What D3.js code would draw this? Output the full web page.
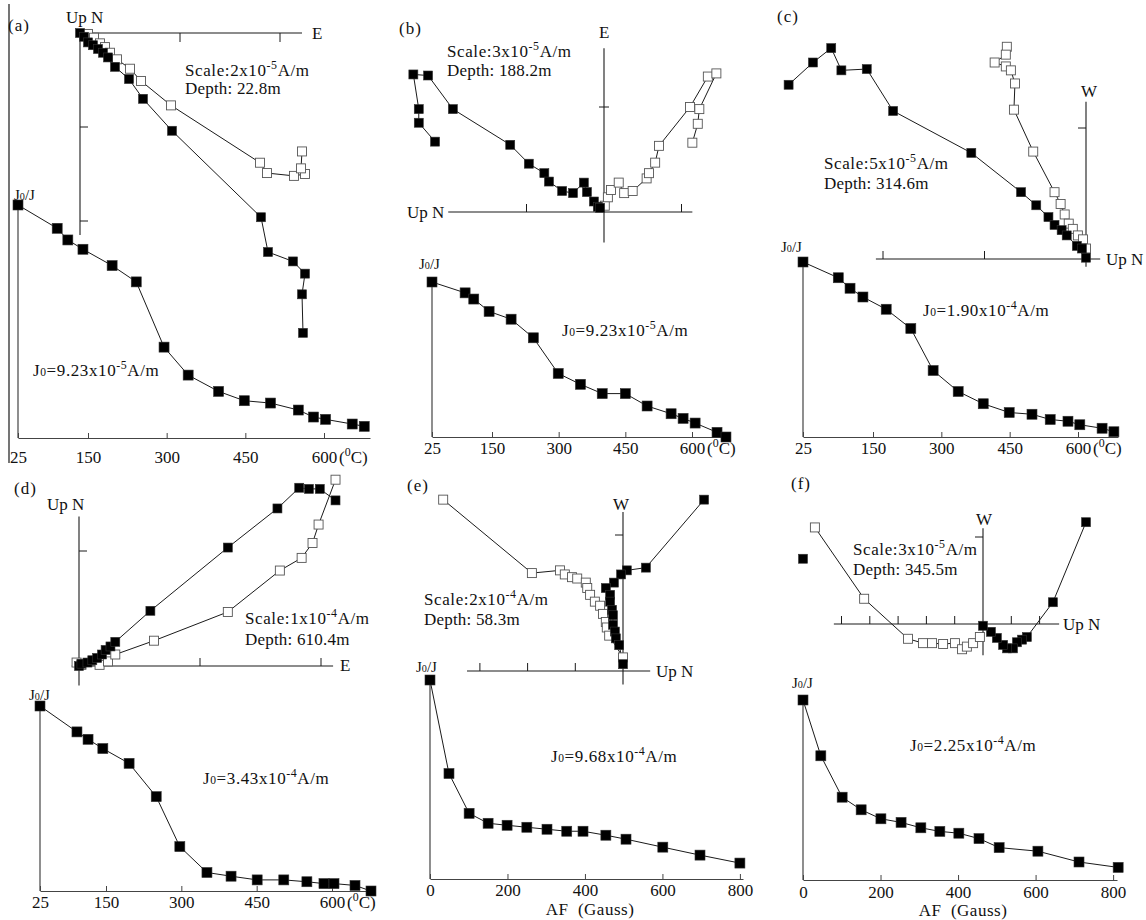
<!DOCTYPE html>
<html><head><meta charset="utf-8">
<script src="https://cdn.jsdelivr.net/npm/d3@7"></script>
<style>
body{margin:0;background:#fff;}
svg text{font-family:"Liberation Serif","Times New Roman",serif;fill:#111;}
</style></head><body>
<svg id="fig" width="1146" height="920"></svg>
<script>
// ---------- data ----------
// Orthogonal (Zijderveld) projections, in units of the scale bar.
// "filled" = horizontal-plane projection, "open" = vertical-plane projection.
const zA_filled = [[0,0],[0.04,-0.04],[0.08,-0.10],[0.13,-0.13],[0.18,-0.17],[0.23,-0.21],[0.28,-0.26],[0.35,-0.36],[0.49,-0.49],[0.63,-0.70],[0.92,-1.04],[1.81,-1.96],[1.88,-2.33],[2.13,-2.43],[2.25,-2.56],[2.22,-2.78],[2.23,-3.19]];
const zA_open = [[0.08,-0.01],[0.14,-0.05],[0.20,-0.11],[0.25,-0.15],[0.30,-0.21],[0.37,-0.28],[0.50,-0.38],[0.61,-0.51],[0.91,-0.77],[1.80,-1.38],[1.87,-1.49],[2.14,-1.52],[2.25,-1.50],[2.21,-1.44],[2.22,-1.26]];
const zB_filled = [[-2.18,0.67],[-2.39,0.85],[-2.39,0.98],[-2.46,1.31],[-2.27,1.30],[-1.95,0.98],[-1.21,0.64],[-0.97,0.46],[-0.77,0.37],[-0.71,0.29],[-0.54,0.20],[-0.40,0.18],[-0.26,0.28],[-0.22,0.19],[-0.13,0.10],[-0.08,0.05],[-0.05,0.04]];
const zB_open = [[0.01,0.06],[0.05,0.14],[0.09,0.21],[0.19,0.28],[0.26,0.18],[0.37,0.20],[0.55,0.32],[0.58,0.37],[0.66,0.47],[0.71,0.63],[1.11,1.00],[1.34,1.29],[1.45,1.32],[1.23,0.98],[1.21,0.84],[1.14,0.66]];
const zC_filled = [[-2.93,1.33],[-2.69,1.50],[-2.51,1.61],[-2.41,1.44],[-2.16,1.45],[-1.90,1.13],[-1.13,0.81],[-0.64,0.51],[-0.49,0.41],[-0.37,0.32],[-0.31,0.26],[-0.24,0.22],[-0.19,0.18],[-0.09,0.10],[-0.04,0.08],[0.00,0.01]];
const zC_open = [[-0.78,1.62],[-0.79,1.56],[-0.90,1.50],[-0.79,1.47],[-0.74,1.44],[-0.70,1.34],[-0.71,1.14],[-0.52,0.82],[-0.31,0.51],[-0.25,0.42],[-0.21,0.34],[-0.17,0.27],[-0.13,0.23],[-0.08,0.18],[-0.03,0.15],[0.00,0.08]];
const zD_filled = [[0,0],[0.02,0.02],[0.07,0.03],[0.11,0.05],[0.15,0.07],[0.19,0.10],[0.22,0.14],[0.26,0.17],[0.30,0.21],[0.59,0.48],[1.23,1.03],[1.64,1.37],[1.82,1.55],[1.90,1.54],[1.99,1.54],[2.12,1.44]];
const zD_open = [[-0.02,0.03],[0.02,0.01],[0.17,0.01],[0.24,0.04],[0.30,0.10],[0.62,0.22],[1.23,0.47],[1.66,0.83],[1.84,0.94],[1.93,1.07],[1.98,1.23],[2.12,1.62]];
const zE_filled = [[1.70,1.26],[0.48,0.76],[0.08,0.74],[-0.04,0.71],[-0.19,0.65],[-0.36,0.61],[-0.27,0.56],[-0.27,0.51],[-0.23,0.45],[-0.21,0.41],[-0.21,0.34],[-0.17,0.29],[-0.15,0.24],[-0.08,0.19],[0.00,0.05]];
const zE_open = [[-3.77,1.26],[-1.91,0.72],[-1.32,0.74],[-1.22,0.71],[-1.07,0.69],[-0.96,0.68],[-0.78,0.65],[-0.75,0.61],[-0.69,0.56],[-0.59,0.51],[-0.48,0.48],[-0.42,0.42],[-0.36,0.36],[-0.34,0.32],[-0.29,0.26],[0.00,0.10]];
const zF_filled = [[3.64,1.17],[2.47,0.25],[1.55,-0.15],[1.38,-0.18],[1.20,-0.21],[1.06,-0.28],[0.85,-0.28],[0.71,-0.24],[0.49,-0.16],[0.28,-0.09],[0.00,-0.02]];
const zF_filledLone = [[-6.36,0.75]];
const zF_open = [[-5.94,1.11],[-4.20,0.29],[-2.65,-0.17],[-2.12,-0.22],[-1.80,-0.22],[-1.41,-0.23],[-0.99,-0.22],[-0.74,-0.29],[-0.57,-0.26],[-0.35,-0.22],[-0.11,-0.15]];

// Demagnetization curves: step (°C or Gauss) and normalized intensity J/J0
const tempA = [25,95,114,141,196,242,295,341,399,448,498,551,580,603,654,677];
const decayA = [1.00,0.90,0.85,0.81,0.74,0.67,0.39,0.27,0.20,0.16,0.15,0.12,0.09,0.08,0.06,0.05];
const tempB = [25,94,112,144,193,243,299,349,398,450,499,553,580,607,656,676];
const decayB = [1.00,0.93,0.89,0.81,0.76,0.64,0.41,0.34,0.28,0.28,0.20,0.15,0.12,0.09,0.03,0.00];
const tempC = [25,88,109,132,179,233,282,337,392,449,499,539,578,604,653,679];
const decayC = [1.00,0.91,0.85,0.80,0.73,0.62,0.38,0.26,0.19,0.14,0.13,0.10,0.09,0.07,0.05,0.03];
const tempD = [25,95,116,144,196,250,297,351,399,451,504,550,584,604,646,678];
const decayD = [1.00,0.86,0.82,0.77,0.69,0.51,0.24,0.10,0.08,0.06,0.06,0.05,0.04,0.04,0.03,0.00];
const afE = [0,49,101,150,199,250,302,353,395,454,506,601,697,800];
const decayE = [1.00,0.53,0.33,0.28,0.27,0.26,0.25,0.24,0.24,0.22,0.20,0.16,0.12,0.08];
const afF = [0,46,101,150,201,253,304,353,402,454,506,606,712,813];
const decayF = [1.00,0.69,0.46,0.39,0.34,0.32,0.29,0.27,0.26,0.23,0.18,0.16,0.10,0.07];

const thermalTicks = [25,150,300,450,600];
const afTicks = [0,200,400,600,800];

const panelLetters = ["(a)","(b)","(c)","(d)","(e)","(f)"];
const scaleTexts = ["Scale:2x10^{-5}A/m","Scale:3x10^{-5}A/m","Scale:5x10^{-5}A/m","Scale:1x10^{-4}A/m","Scale:2x10^{-4}A/m","Scale:3x10^{-5}A/m"];
const depthTexts = ["Depth: 22.8m","Depth: 188.2m","Depth: 314.6m","Depth: 610.4m","Depth: 58.3m","Depth: 345.5m"];
const j0Texts = ["J_{0}=9.23x10^{-5}A/m","J_{0}=9.23x10^{-5}A/m","J_{0}=1.90x10^{-4}A/m","J_{0}=3.43x10^{-4}A/m","J_{0}=9.68x10^{-4}A/m","J_{0}=2.25x10^{-4}A/m"];

// ---------- drawing ----------
const svg = d3.select('#fig');
const INK = '#1a1a1a';
const FS = 17;

// text with ^{superscript} and _{small baseline} pieces
function rich(g, x, y, str, opt = {}) {
  const size = opt.size || FS;
  const t = g.append('text').attr('x', x).attr('y', y)
    .attr('font-size', size).attr('text-anchor', opt.anchor || 'start')
    .attr('letter-spacing', opt.ls == null ? 0.5 : opt.ls);
  const parts = str.split(/(\^\{[^}]*\}|_\{[^}]*\})/).filter(s => s.length);
  let cur = 0;
  parts.forEach(p => {
    let target = 0, txt = p, fs = null;
    if (p.startsWith('^{')) { target = -0.4 * size; txt = p.slice(2, -1); fs = size * 0.7; }
    else if (p.startsWith('_{')) { target = 0; txt = p.slice(2, -1); fs = size * 0.68; }
    const ts = t.append('tspan').text(txt).attr('dy', target - cur);
    if (fs) ts.attr('font-size', fs);
    cur = target;
  });
  return t;
}

function drawZij(cfg, openPts, filledPts, lonePts) {
  const g = svg.append('g');
  const x = d3.scaleLinear().domain([0, 1]).range([cfg.ox, cfg.ox + cfg.sx]);
  const y = d3.scaleLinear().domain([0, 1]).range([cfg.oy, cfg.oy - cfg.sy]);
  g.append('line').attr('x1', x(cfg.xr[0])).attr('x2', x(cfg.xr[1]))
    .attr('y1', y(0)).attr('y2', y(0)).attr('stroke', INK).attr('stroke-width', 1.1);
  g.append('line').attr('x1', x(0)).attr('x2', x(0))
    .attr('y1', y(cfg.yr[0])).attr('y2', y(cfg.yr[1])).attr('stroke', INK).attr('stroke-width', 1.1);
  cfg.xt.forEach(v => g.append('line').attr('x1', x(v)).attr('x2', x(v))
    .attr('y1', y(0) + cfg.xtOff[0]).attr('y2', y(0) + cfg.xtOff[1]).attr('stroke', INK));
  cfg.yt.forEach(v => g.append('line').attr('y1', y(v)).attr('y2', y(v))
    .attr('x1', x(0) + cfg.ytOff[0]).attr('x2', x(0) + cfg.ytOff[1]).attr('stroke', INK));

  const line = d3.line().x(d => x(d[0])).y(d => y(d[1]));
  const s = 9;
  g.append('path').datum(openPts).attr('d', line).attr('fill', 'none').attr('stroke', INK).attr('stroke-width', 1);
  g.append('path').datum(filledPts).attr('d', line).attr('fill', 'none').attr('stroke', INK).attr('stroke-width', 1);
  g.selectAll(null).data(openPts).join('rect')
    .attr('x', d => x(d[0]) - s / 2).attr('y', d => y(d[1]) - s / 2)
    .attr('width', s).attr('height', s).attr('fill', '#fff').attr('stroke', '#555').attr('stroke-width', 0.9);
  g.selectAll(null).data(filledPts.concat(lonePts || [])).join('rect')
    .attr('x', d => x(d[0]) - s / 2).attr('y', d => y(d[1]) - s / 2)
    .attr('width', s).attr('height', s).attr('fill', '#000').attr('stroke', '#333').attr('stroke-width', 0.6);

  cfg.labels.forEach(l => g.append('text').attr('x', l.x).attr('y', l.y)
    .attr('font-size', FS).attr('text-anchor', l.anchor || 'start').text(l.t));
}

function drawDecay(cfg, xs, ys, j0Text) {
  const g = svg.append('g');
  const x = d3.scaleLinear().domain(cfg.dom).range(cfg.rng);
  const y = d3.scaleLinear().domain([0, 1]).range([cfg.y0, cfg.y1]);
  const axis = d3.axisBottom(x).tickValues(cfg.ticks).tickSizeInner(-5).tickSizeOuter(0)
    .tickPadding(cfg.pad).tickFormat(d3.format('d'));
  const ag = g.append('g').attr('transform', `translate(0,${cfg.y0})`).call(axis)
    .attr('font-size', FS).attr('font-family', null);
  ag.select('.domain').attr('stroke', '#444').attr('stroke-width', 1.2);
  ag.selectAll('.tick line').attr('stroke', '#444');
  ag.selectAll('.tick text').attr('fill', '#111');
  g.append('line').attr('x1', x(cfg.dom[0])).attr('x2', x(cfg.dom[0]))
    .attr('y1', y(0)).attr('y2', y(1)).attr('stroke', '#444').attr('stroke-width', 1.2);

  const pts = xs.map((v, i) => [v, ys[i]]);
  g.append('path').datum(pts).attr('d', d3.line().x(d => x(d[0])).y(d => y(d[1])))
    .attr('fill', 'none').attr('stroke', INK).attr('stroke-width', 1);
  const s = 10;
  g.selectAll(null).data(pts).join('rect')
    .attr('x', d => x(d[0]) - s / 2).attr('y', d => y(d[1]) - s / 2)
    .attr('width', s).attr('height', s).attr('fill', '#000').attr('stroke', '#333').attr('stroke-width', 0.6);

  rich(g, cfg.jlab[0], cfg.jlab[1], 'J_{0}/J', { size: 15, ls: 0 });
  rich(g, cfg.j0[0], cfg.j0[1], j0Text, { size: FS, ls: 0.6 });
  if (cfg.unit === 'T') {
    rich(g, x(600) + 15, cfg.y0 + cfg.unitDy, '(^{0}C)', { size: FS, ls: 0 });
  } else {
    g.append('text').attr('x', cfg.unitX).attr('y', cfg.y0 + cfg.unitDy).attr('font-size', FS)
      .attr('text-anchor', 'middle').attr('letter-spacing', 0.5).text('AF\u00a0 (Gauss)');
  }
}

// ---------- layout ----------
const zijLayout = [
  { ox: 80, oy: 33, sx: 100, sy: 94, xr: [0, 2.22], yr: [0, -2.15], xt: [1, 2], yt: [-1, -2], xtOff: [0, 9], ytOff: [0, 8],
    labels: [{ t: 'Up N', x: 66, y: 23 }, { t: 'E', x: 312, y: 39 }] },
  { ox: 604, oy: 212, sx: 77.5, sy: 105, xr: [-2.01, 1.14], yr: [1.56, -0.29], xt: [-1, 1], yt: [1], xtOff: [-8, 0], ytOff: [-5, 5],
    labels: [{ t: 'Up N', x: 407, y: 218 }, { t: 'E', x: 599, y: 38 }] },
  { ox: 1086, oy: 259, sx: 101.5, sy: 131, xr: [-2.07, 0.14], yr: [1.20, -0.06], xt: [-1, -2], yt: [1], xtOff: [-8, 0], ytOff: [-8, 0],
    labels: [{ t: 'W', x: 1081, y: 97 }, { t: 'Up N', x: 1106, y: 265 }] },
  { ox: 79, oy: 666, sx: 121, sy: 115, xr: [-0.06, 2.10], yr: [1.30, -0.17], xt: [1, 2], yt: [1], xtOff: [-8, 0], ytOff: [0, 8],
    labels: [{ t: 'Up N', x: 47, y: 510 }, { t: 'E', x: 340, y: 671 }] },
  { ox: 623, oy: 671, sx: 47.7, sy: 136, xr: [-3.27, 0.57], yr: [1.17, -0.10], xt: [-1, -2, -3], yt: [1], xtOff: [-8, 0], ytOff: [-8, 0],
    labels: [{ t: 'W', x: 613, y: 510 }, { t: 'Up N', x: 656, y: 677 }] },
  { ox: 983, oy: 624, sx: 28.3, sy: 87, xr: [-5.27, 2.69], yr: [1.10, -0.36], xt: [-5, -4, -3, -2, -1, 1, 2], yt: [1], xtOff: [-8, 0], ytOff: [-8, 0],
    labels: [{ t: 'W', x: 976, y: 525 }, { t: 'Up N', x: 1063, y: 630 }] }
];

const decayLayout = [
  { unit: 'T', dom: [25, 150, 600, 688], rng: [18, 88, 324, 370], y0: 438, y1: 205, ticks: thermalTicks, pad: 13, unitDy: 25, jlab: [14, 200], j0: [33, 376] },
  { unit: 'T', dom: [25, 150, 600, 685], rng: [432, 492, 692, 730], y0: 437, y1: 282, ticks: thermalTicks, pad: 5, unitDy: 17, jlab: [419, 269], j0: [562, 336] },
  { unit: 'T', dom: [25, 150, 600, 688], rng: [803, 873, 1078, 1118], y0: 437, y1: 262, ticks: thermalTicks, pad: 5, unitDy: 17, jlab: [781, 252], j0: [923, 316] },
  { unit: 'T', dom: [25, 150, 600, 682], rng: [40, 106, 332, 373], y0: 891, y1: 706, ticks: thermalTicks, pad: 5, unitDy: 17, jlab: [29, 700], j0: [203, 784] },
  { unit: 'AF', dom: [0, 808], rng: [430, 743], y0: 879, y1: 680, ticks: afTicks, pad: 5, unitDy: 36, unitX: 590, jlab: [416, 672], j0: [551, 762] },
  { unit: 'AF', dom: [0, 810], rng: [803, 1117], y0: 880, y1: 700, ticks: afTicks, pad: 6, unitDy: 36, unitX: 963, jlab: [792, 688], j0: [910, 751] }
];

const letterPos = [[8, 31], [399, 34], [777, 22], [14, 494], [407, 491], [791, 489]];
const scalePos = [[185, 76, 94], [447, 57, 76], [824, 169, 189], [245, 624, 645], [424, 605, 625], [853, 555, 575]];

// ---------- render ----------
// panel (a) left frame line
svg.append('line').attr('x1', 9).attr('x2', 9).attr('y1', 4).attr('y2', 463).attr('stroke', INK).attr('stroke-width', 1.2);

const zOpen = [zA_open, zB_open, zC_open, zD_open, zE_open, zF_open];
const zFilled = [zA_filled, zB_filled, zC_filled, zD_filled, zE_filled, zF_filled];
const zLone = [null, null, null, null, null, zF_filledLone];
const decX = [tempA, tempB, tempC, tempD, afE, afF];
const decY = [decayA, decayB, decayC, decayD, decayE, decayF];

for (let i = 0; i < 6; i++) {
  drawZij(zijLayout[i], zOpen[i], zFilled[i], zLone[i]);
  drawDecay(decayLayout[i], decX[i], decY[i], j0Texts[i]);
  svg.append('text').attr('x', letterPos[i][0]).attr('y', letterPos[i][1]).attr('font-size', FS)
    .attr('letter-spacing', 1).text(panelLetters[i]);
  rich(svg, scalePos[i][0], scalePos[i][1], scaleTexts[i], { size: FS, ls: 0.6 });
  rich(svg, scalePos[i][0], scalePos[i][2], depthTexts[i], { size: FS, ls: 0.2 });
}
</script>
</body></html>
